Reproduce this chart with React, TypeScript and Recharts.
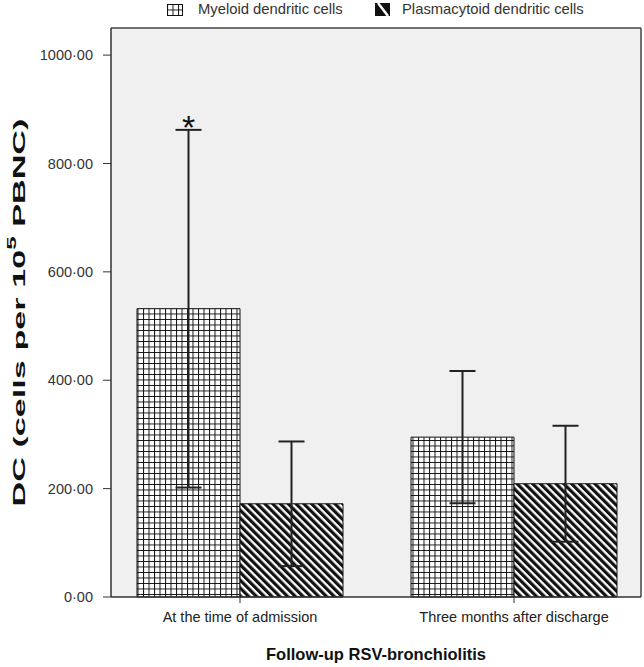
import React from 'react';
import { BarChart, Bar, XAxis, YAxis, CartesianGrid, ErrorBar, LabelList } from 'recharts';

const categories = ['At the time of admission', 'Three months after discharge'];
const myeloid = [532, 295];
const myeloidErr = [330, 122];
const plasmacytoid = [172, 209];
const plasmacytoidErr = [115, 107];
const marks = ['*', ''];
const yTicks = [0, 200, 400, 600, 800, 1000];

const data = categories.map((name, i) => ({
  name,
  myeloid: myeloid[i],
  myeloidErr: myeloidErr[i],
  plasmacytoid: plasmacytoid[i],
  plasmacytoidErr: plasmacytoidErr[i],
}));

const FONT = '"Liberation Sans", Arial, sans-serif';

const fmt = (v: number) => v.toFixed(2).replace('.', '·');

const Patterns = () => (
  <defs>
    <pattern id="gridFill" patternUnits="userSpaceOnUse" width={5.5} height={5.5}>
      <rect width={5.5} height={5.5} fill="#fff" />
      <path d="M0 0.5H5.5M0.5 0V5.5" stroke="#111" strokeWidth={1} />
    </pattern>
    <pattern id="diagFill" patternUnits="userSpaceOnUse" width={5.5} height={10} patternTransform="rotate(-45)">
      <rect width={5.5} height={10} fill="#fff" />
      <rect width={3.2} height={10} fill="#111" />
    </pattern>
  </defs>
);

const LegendBox = () => (
  <div style={{ position: 'absolute', left: 0, top: 0, width: 644, height: 28, fontFamily: FONT, fontSize: 14.8, color: '#333' }}>
    <svg width={16} height={12} style={{ position: 'absolute', left: 167, top: 4 }}>
      <rect x={0.5} y={0.5} width={15} height={11} fill="url(#gridFill)" stroke="#111" />
    </svg>
    <span style={{ position: 'absolute', left: 198, top: 1 }}>Myeloid dendritic cells</span>
    <svg width={15} height={13} style={{ position: 'absolute', left: 375, top: 3 }}>
      <rect x={0} y={0} width={15} height={13} fill="#111" />
      <path d="M3 0L13 13" stroke="#fff" strokeWidth={2.5} />
    </svg>
    <span style={{ position: 'absolute', left: 402, top: 1 }}>Plasmacytoid dendritic cells</span>
  </div>
);

const YLabel = (props: any) => {
  const { viewBox } = props;
  const cx = 19;
  const cy = viewBox.y + viewBox.height / 2;
  return (
    <text
      x={cx}
      y={cy}
      transform={`rotate(-90 ${cx} ${cy})`}
      textAnchor="middle"
      dominantBaseline="central"
      fontFamily={FONT}
      fontWeight="bold"
      fontSize={17}
      fill="#111"
      textLength={388}
      lengthAdjust="spacingAndGlyphs"
    >
      DC (cells per 10<tspan dy={-7} fontSize={12}>5</tspan>
      <tspan dy={7}> PBNC)</tspan>
    </text>
  );
};

const StarLabel = (props: any) => {
  const { x, y, width, height, value, index } = props;
  const mark = marks[index];
  if (!mark) return null;
  const perUnit = height / value;
  const top = y + height - (value + myeloidErr[index]) * perUnit;
  return (
    <text x={x + width / 2} y={top + 9} textAnchor="middle" fontFamily={FONT} fontSize={34} fill="#111">
      {mark}
    </text>
  );
};

export default function App() {
  return (
    <div style={{ position: 'absolute', left: 0, top: 0, width: 644, height: 667, background: '#fff' }}>
      <BarChart
        width={644}
        height={667}
        data={data}
        margin={{ top: 28, right: 3, bottom: 0, left: 0 }}
        barGap={0}
        barSize={103}
      >
        <Patterns />
        <CartesianGrid fill="#f0f0f0" horizontal={false} vertical={false} />
        <CartesianGrid
          stroke="#444"
          strokeWidth={1.5}
          horizontalCoordinatesGenerator={({ offset }: any) => [offset.top]}
          verticalCoordinatesGenerator={({ offset }: any) => [offset.left + offset.width]}
        />
        <XAxis
          dataKey="name"
          height={70}
          padding={{ left: -8, right: -10 }}
          tickLine={{ stroke: '#333' }}
          tickSize={6}
          tickMargin={9}
          axisLine={{ stroke: '#333', strokeWidth: 1.5 }}
          tick={{ fill: '#222', fontSize: 14.5, fontFamily: FONT }}
          label={{
            value: 'Follow-up RSV-bronchiolitis',
            position: 'insideBottom',
            offset: 7,
            fill: '#111',
            fontSize: 16.5,
            fontWeight: 'bold',
            fontFamily: FONT,
          }}
        />
        <YAxis
          width={111}
          domain={[0, 1050]}
          ticks={yTicks}
          tickFormatter={fmt}
          tickSize={8}
          tickMargin={10}
          tickLine={{ stroke: '#333' }}
          axisLine={{ stroke: '#333', strokeWidth: 1.5 }}
          tick={{ fill: '#333', fontSize: 14.5, fontFamily: FONT }}
          label={<YLabel />}
        />
        <Bar dataKey="myeloid" fill="url(#gridFill)" stroke="#111" strokeWidth={1} isAnimationActive={false}>
          <ErrorBar dataKey="myeloidErr" width={13} stroke="#222" strokeWidth={2} />
          <LabelList dataKey="myeloid" content={<StarLabel />} />
        </Bar>
        <Bar dataKey="plasmacytoid" fill="url(#diagFill)" stroke="#111" strokeWidth={1} isAnimationActive={false}>
          <ErrorBar dataKey="plasmacytoidErr" width={13} stroke="#222" strokeWidth={2} />
        </Bar>
      </BarChart>
      <LegendBox />
    </div>
  );
}
